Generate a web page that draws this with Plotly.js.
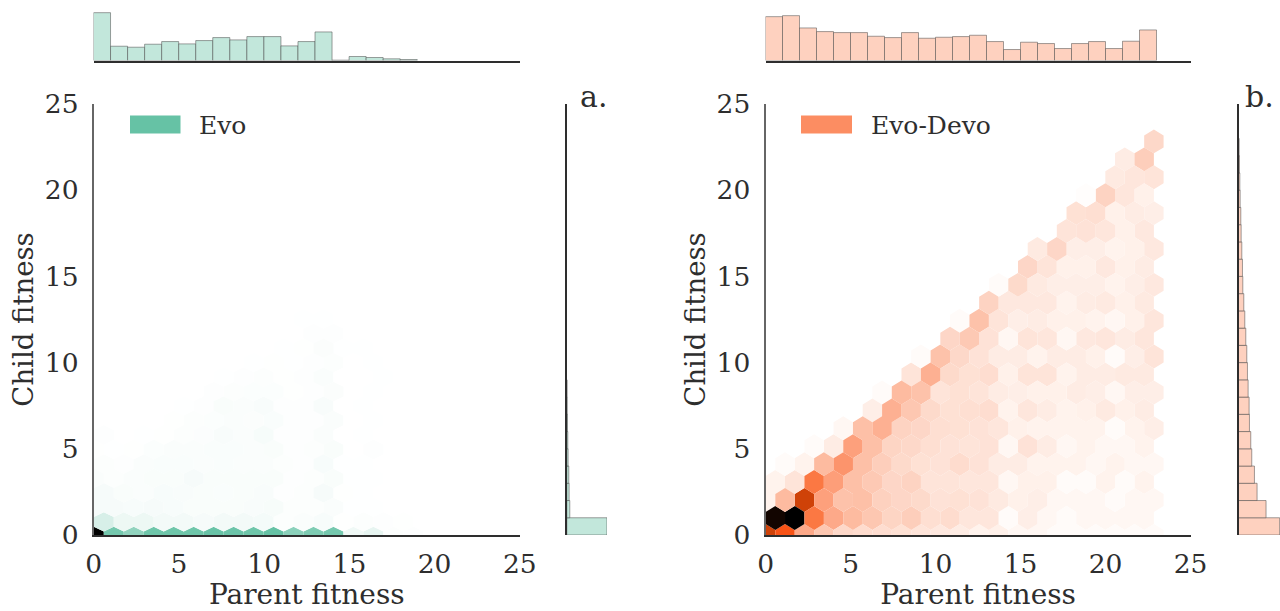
<!DOCTYPE html>
<html><head><meta charset="utf-8">
<script src="https://cdn.plot.ly/plotly-3.0.1.min.js"></script>
<style>html,body{margin:0;padding:0;background:#fff}#c{width:1280px;height:611px}</style>
</head><body><div id="c"></div>
<script>
// Hexbin densities (relative level 0-100), bottom row first.
// Even rows start at x=0, odd rows are shifted half a cell.
const evoDensity = [
[100,45,36,47,47,47,49,48,47,50,38,42,45,5,8,1,.5],
[13,6,6,4,4,3,4,4,3.5,1,1.5,2.5,.3,1,.7,.3],
[3,3,2.5,3,2.5,2,2,2,2.2,2.7,1,1,1.5,.2,.2,.1],
[3,2,1.7,2.5,2.4,2,1.8,2,2.2,.8,1,3,.3,.2],
[1.5,1,1.5,2,2,3,2,2,2,2,.8,1,2,.2,.2],
[1,.5,1.6,1.8,1.8,1.5,1.8,1.5,1.5,1,.8,2.5,.2,.2],
[.3,.2,.3,1.2,1.5,1.5,1.8,1.8,1.5,2,.8,1,2,.1,.6],
[.7,.1,.2,.3,1,1.3,2.2,1.5,2.8,.6,.8,1.5,.1,.2],
[0,0,0,.1,.3,1,1.2,1.5,1.4,1.8,.5,.8,1.5,.1,.2],
[0,0,0,.1,.2,.8,2,1.5,2.2,.5,.8,2.2,.1,.2,.1],
[0,0,0,0,0,.1,.5,1,1.2,1.2,.3,.6,1.4,.1,.2],
[0,0,0,0,0,.1,.2,.5,.9,.3,.6,1.6,.1,.1,.2],
[0,0,0,0,0,0,0,.1,.2,.3,.2,.5,.9,.1,.2,.1],
[0,0,0,0,0,0,0,0,.1,.2,.4,1.4,.2,.2],
[0,0,0,0,0,0,0,0,0,0,.1,.5,.5,.1],
[0,0,0,0,0,0,0,0,0,0,.2,.2,0,.1],
[0,0,0,0,0,0,0,0,0,0,0,0,0,0,.1]
];
const devoDensity = [
[80,70,38,25,17,15,14,12,10,8,6,3,4,2,2,1,1,1,1,1,1],
[98,100,57,38,30,25,19,22,13,15,9,9,1,5,2,1,2,2,2,2],
[3,30,80,42,27,28,21,18,16,11,12,11,7,4,5,2,2,2,1,2,2],
[3,10,57,43,28,24,18,20,10,10,9,9,2,4,4,1,1,3,1,3],
[0,1,3,30,47,28,22,16,12,11,15,11,6,6,3,3,3,2,3,2,2],
[0,0,1,6,42,28,19,17,13,11,10,11,2,11,6,2,3,2,2,3],
[0,0,0,0,2,28,35,20,18,13,12,11,9,4,3,3,3,3,1,3,5],
[0,0,0,0,0,5,35,25,16,12,13,14,3,9,6,3,4,7,4,6],
[0,0,0,0,0,0,1,30,27,10,12,10,6,5,4,4,6,5,2,5,5],
[0,0,0,0,0,0,0,10,35,16,12,14,4,10,10,3,6,6,7,7],
[0,0,0,0,0,0,0,0,1,27,17,11,6,6,3,6,6,4,1,5,10],
[0,0,0,0,0,0,0,0,0,18,24,11,2,10,9,2,8,9,6,9],
[0,0,0,0,0,0,0,0,0,0,1,27,10,5,6,4,4,3,2,4,9],
[0,0,0,0,0,0,0,0,0,0,0,20,8,8,8,3,6,7,4,7],
[0,0,0,0,0,0,0,0,0,0,0,0,1,16,7,5,5,5,3,5,8],
[0,0,0,0,0,0,0,0,0,0,0,0,0,18,10,4,4,8,4,6],
[0,0,0,0,0,0,0,0,0,0,0,0,0,0,7,18,5,5,3,4,8],
[0,0,0,0,0,0,0,0,0,0,0,0,0,0,0,10,11,9,4,8],
[0,0,0,0,0,0,0,0,0,0,0,0,0,0,0,0,12,13,4,6,5],
[0,0,0,0,0,0,0,0,0,0,0,0,0,0,0,0,.5,20,9,4],
[0,0,0,0,0,0,0,0,0,0,0,0,0,0,0,0,0,0,7,9,10],
[0,0,0,0,0,0,0,0,0,0,0,0,0,0,0,0,0,0,6,22],
[0,0,0,0,0,0,0,0,0,0,0,0,0,0,0,0,0,0,0,0,17]
];
// Marginal histograms, unit-width bins from 0
const evoParentHist = [144,43,40,49,57,50,60,69,62,72,72,44,57,86,1,12,9,5,3];
const devoParentHist = [132,135,98,87,84,84,73,69,84,67,70,72,76,57,33,55,51,36,51,57,36,58,92];
const evoChildHist = [121,9,7,6,4,3,2,1,0.5];
const devoChildHist = [124,83,56,48,40,37,33,32,29,27,25,22,19,16,13,12,10,8,7,5,4,3,2];
const tickVals = [0,5,10,15,20,25];
const tickText = ['0','5','10','15','20','25'];
const xLabel = 'Parent fitness', yLabel = 'Child fitness';
const legendNames = ['Evo','Evo-Devo'];
const panelLetters = ['a.','b.'];

const W=1280,H=611;
const FONT='"DejaVu Serif", serif', INK='#2e2e2e';
const evoRamp=[[0,[255,255,255]],[50,[102,194,165]],[100,[0,0,0]]];
const devoRamp=[[0,[255,255,255]],[3,[255,243,237]],[6,[254,236,228]],[10,[254,228,217]],[20,[253,211,194]],[30,[253,187,160]],[40,[253,165,131]],[50,[252,141,98]],[60,[251,111,54]],[70,[248,83,22]],[80,[207,66,8]],[90,[92,24,0]],[100,[0,0,0]]];
function rampColor(r,v){
  for(let i=1;i<r.length;i++){ if(v<=r[i][0]){
    const t=(v-r[i-1][0])/(r[i][0]-r[i-1][0]);
    const c=r[i-1][1].map((a,j)=>Math.round(a+(r[i][1][j]-a)*t));
    return 'rgb('+c.join(',')+')';
  }}
  return 'rgb(0,0,0)';
}
function hexTraces(grid,ramp,xa,ya,DX,DY,Y0){
  const byColor={};
  grid.forEach((row,k)=>row.forEach((v,i)=>{
    if(v<=0) return;
    const c=rampColor(ramp,v);
    const g=byColor[c]||(byColor[c]={x:[],y:[]});
    const cx=(i+(k%2)/2)*DX, cy=Y0+k*DY, hx=DX/2, hy=DY*2/3;
    g.x.push(cx,cx+hx,cx+hx,cx,cx-hx,cx-hx,cx,null);
    g.y.push(cy+hy,cy+hy/2,cy-hy/2,cy-hy,cy-hy/2,cy+hy/2,cy+hy,null);
  }));
  return Object.keys(byColor).map(c=>({type:'scatter',mode:'none',fill:'toself',fillcolor:c,x:byColor[c].x,y:byColor[c].y,xaxis:xa,yaxis:ya,hoverinfo:'skip',showlegend:false}));
}
function histTrace(vals,fill,xa,ya,horizontal){
  const centers=vals.map((_,i)=>i+0.5);
  const t={type:'bar',width:1,xaxis:xa,yaxis:ya,hoverinfo:'skip',showlegend:false,
    marker:{color:fill,line:{color:'rgba(70,70,70,0.5)',width:1}}};
  if(horizontal){t.orientation='h';t.x=vals;t.y=centers;}else{t.x=centers;t.y=vals;}
  return t;
}
const GREEN='#66c2a5',ORANGE='#fc8d62',GREEN_L='#c2e7db',ORANGE_L='#fed1bf';
const data=[
  ...hexTraces(evoDensity,evoRamp,'x','y',1.172,0.84,-0.08),
  ...hexTraces(devoDensity,devoRamp,'x2','y2',1.142,1.04,-0.05),
  histTrace(evoParentHist,GREEN_L,'x3','y3',false),
  histTrace(devoParentHist,ORANGE_L,'x4','y4',false),
  histTrace(evoChildHist,GREEN_L,'x5','y5',true),
  histTrace(devoChildHist,ORANGE_L,'x6','y6',true)
];
const fx=(a,b)=>[a/W,b/W], fy=(t,b)=>[1-b/H,1-t/H];
const MAIN_T=104,MAIN_B=535,TOP_T=12,TOP_B=60.5;
function mainX(dom,extra){return Object.assign({domain:dom,range:[0,25],tickmode:'array',tickvals:tickVals,ticktext:tickText,ticks:'',showgrid:false,zeroline:false,showline:true,linecolor:INK,linewidth:1.6,
  tickfont:{family:FONT,size:26.5,color:INK},ticklabelstandoff:5,automargin:false,
  title:{text:xLabel,font:{family:FONT,size:28,color:INK},standoff:10}},extra||{});}
function mainY(dom,anchor){return {domain:dom,range:[0,25],anchor:anchor,tickmode:'array',tickvals:tickVals,ticktext:tickText,ticks:'',showgrid:false,zeroline:false,showline:true,linecolor:'#666',linewidth:2,
  tickfont:{family:FONT,size:26.5,color:INK},ticklabelstandoff:8,automargin:false,
  title:{text:yLabel,font:{family:FONT,size:27.5,color:INK},standoff:3}};}
const hide={showticklabels:false,ticks:'',showgrid:false,zeroline:false};
const layout={width:W,height:H,margin:{l:0,r:0,t:0,b:0},paper_bgcolor:'#fff',plot_bgcolor:'rgba(0,0,0,0)',showlegend:false,bargap:0,barmode:'overlay',
  xaxis:mainX(fx(93.8,519.8),{anchor:'y'}),
  yaxis:mainY(fy(MAIN_T,MAIN_B),'x'),
  xaxis2:mainX(fx(765.6,1190.6),{anchor:'y2'}),
  yaxis2:mainY(fy(MAIN_T,MAIN_B),'x2'),
  xaxis3:Object.assign({domain:fx(93.5,519.5),range:[0,25],anchor:'y3',showline:true,linecolor:INK,linewidth:2},hide),
  yaxis3:Object.assign({domain:fy(TOP_T,TOP_B),range:[0,146],anchor:'x3',showline:false},hide),
  xaxis4:Object.assign({domain:fx(765.5,1190.5),range:[0,25],anchor:'y4',showline:true,linecolor:INK,linewidth:2},hide),
  yaxis4:Object.assign({domain:fy(TOP_T,TOP_B),range:[0,146],anchor:'x4',showline:false},hide),
  xaxis5:Object.assign({domain:fx(566.8,607),range:[0,121],anchor:'y5',showline:false},hide),
  yaxis5:Object.assign({domain:fy(MAIN_T,MAIN_B),range:[0,25],anchor:'x5',showline:true,linecolor:INK,linewidth:1.6},hide),
  xaxis6:Object.assign({domain:fx(1238.5,1280),range:[0,125],anchor:'y6',showline:false},hide),
  yaxis6:Object.assign({domain:fy(MAIN_T,MAIN_B),range:[0,25],anchor:'x6',showline:true,linecolor:INK,linewidth:1.6},hide),
  shapes:[
    {type:'rect',xref:'paper',yref:'paper',x0:130/W,x1:180.5/W,y0:1-133.5/H,y1:1-115.5/H,fillcolor:GREEN,line:{width:0}},
    {type:'rect',xref:'paper',yref:'paper',x0:801/W,x1:852/W,y0:1-133.5/H,y1:1-115.5/H,fillcolor:ORANGE,line:{width:0}}
  ],
  annotations:[
    {xref:'paper',yref:'paper',x:197/W,y:1-125/H,xanchor:'left',yanchor:'middle',showarrow:false,text:legendNames[0],font:{family:FONT,size:25,color:INK}},
    {xref:'paper',yref:'paper',x:869/W,y:1-125/H,xanchor:'left',yanchor:'middle',showarrow:false,text:legendNames[1],font:{family:FONT,size:25,color:INK}},
    {xref:'paper',yref:'paper',x:578/W,y:1-96/H,xanchor:'left',yanchor:'middle',showarrow:false,text:panelLetters[0],font:{family:FONT,size:30,color:INK}},
    {xref:'paper',yref:'paper',x:1243/W,y:1-96/H,xanchor:'left',yanchor:'middle',showarrow:false,text:panelLetters[1],font:{family:FONT,size:30,color:INK}}
  ]
};
Plotly.newPlot('c',data,layout,{displayModeBar:false,staticPlot:true});
</script></body></html>
